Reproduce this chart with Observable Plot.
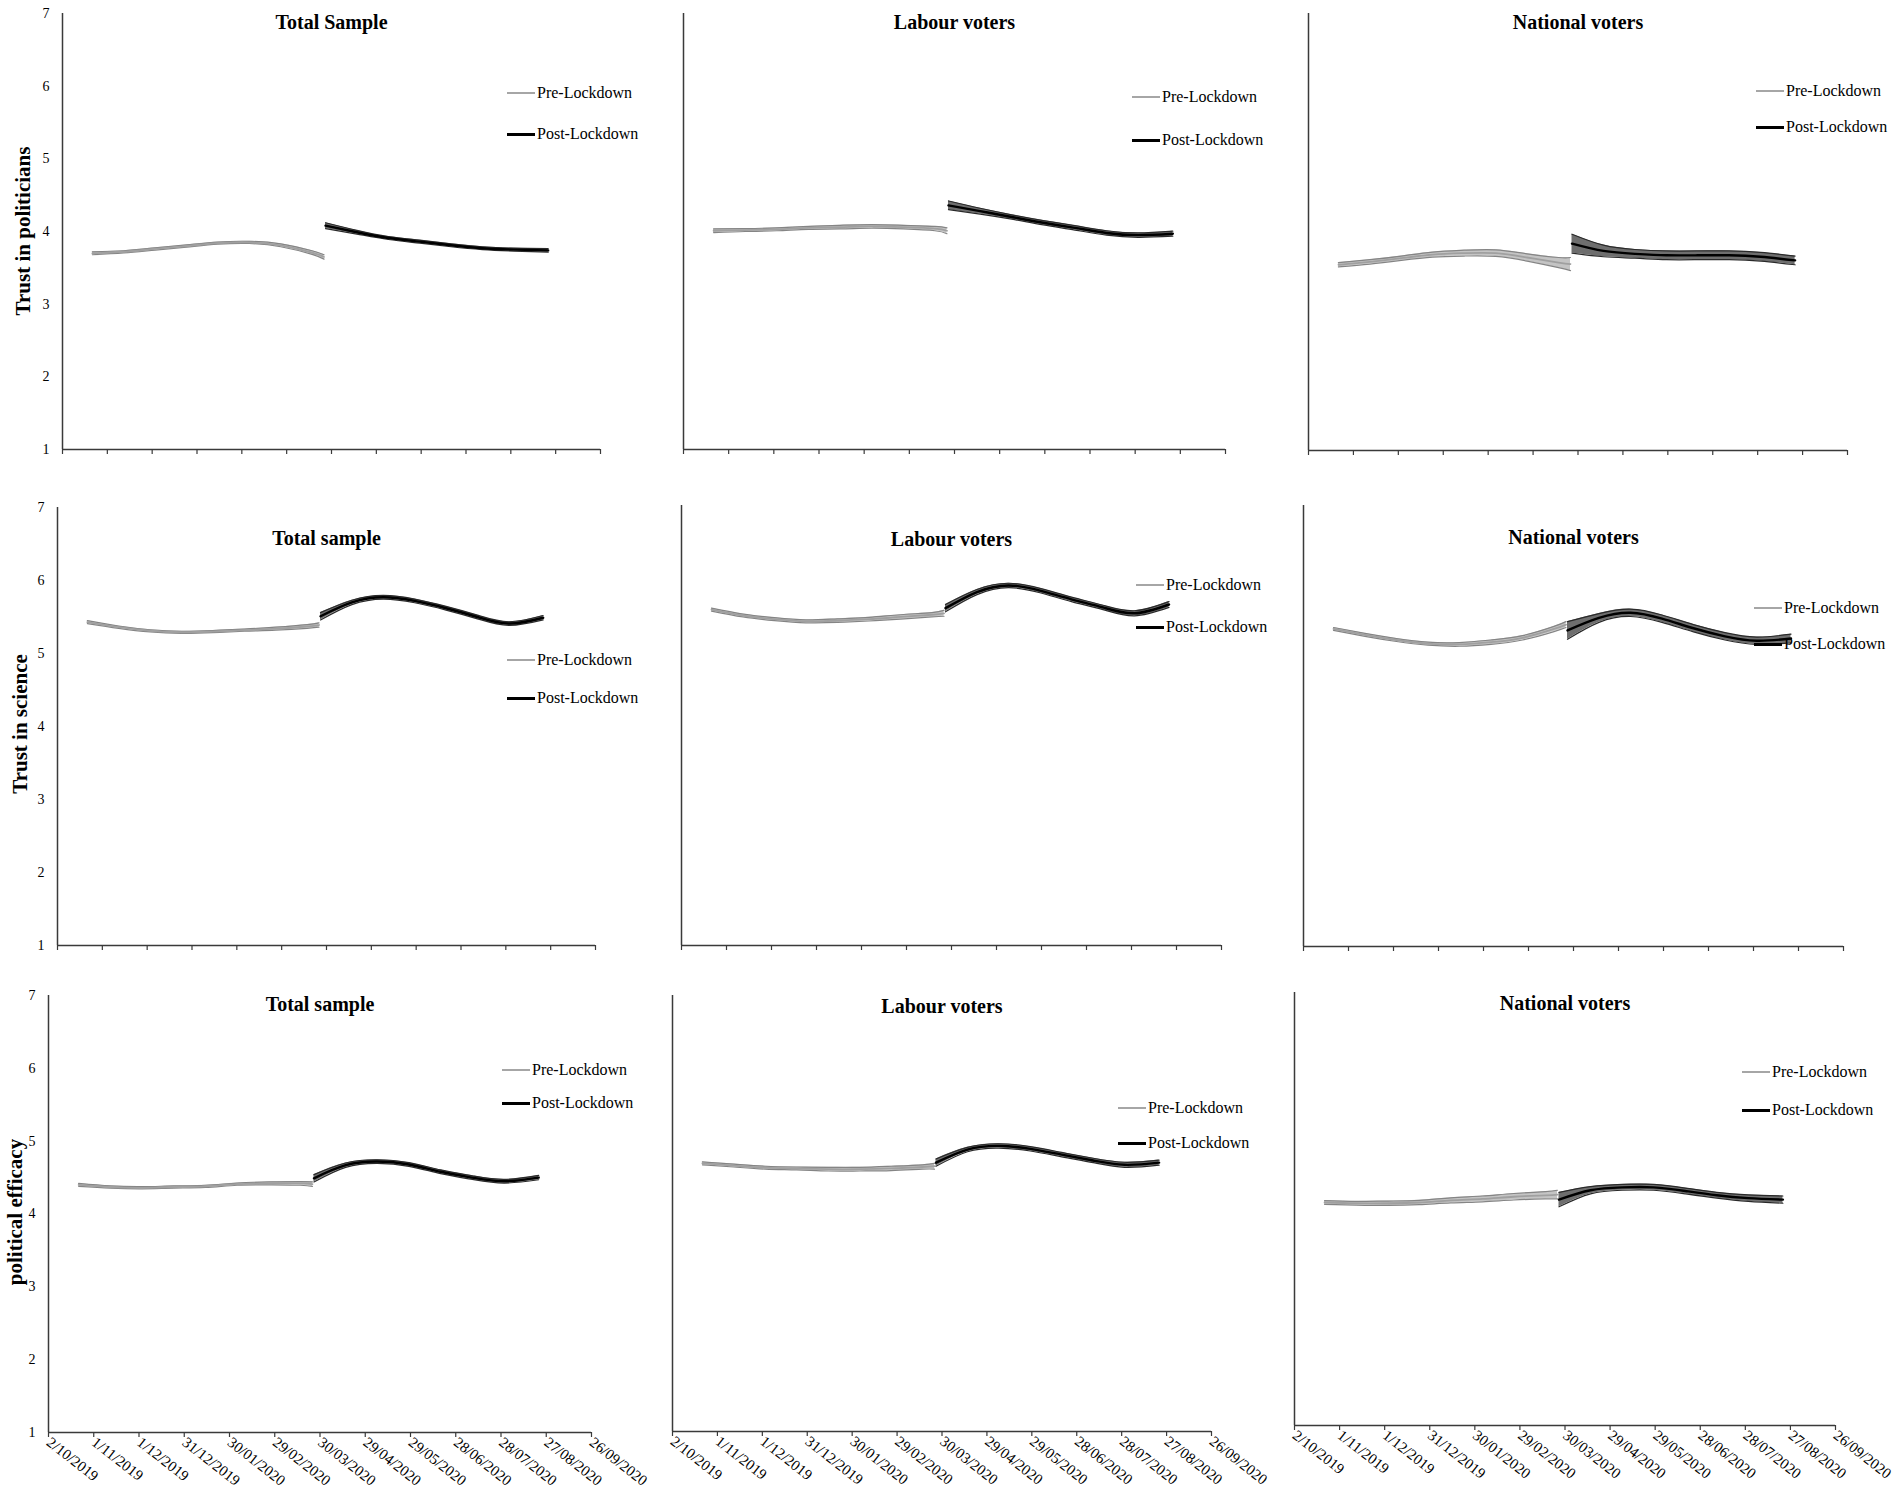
<!DOCTYPE html>
<html>
<head>
<meta charset="utf-8">
<script src="https://cdn.jsdelivr.net/npm/d3@7"></script>
<script src="https://cdn.jsdelivr.net/npm/@observablehq/plot@0.6"></script>
<style>
  html, body { margin: 0; padding: 0; background: #fff; }
  #chart { position: relative; width: 1902px; height: 1494px; overflow: hidden; background: #fff;
           font-family: "Liberation Serif", "Times New Roman", serif; color: #000; }
  .panel { position: absolute; }
  .panel svg { overflow: visible; }
  .ytitle { position: absolute; font-family: "Liberation Serif", "Times New Roman", serif; font-size: 21px;
            font-weight: 700; line-height: 21px; white-space: nowrap; color: #000;
            transform: translate(-50%, -50%) rotate(-90deg); }
  .legend { position: absolute; height: 20px; display: flex; align-items: center;
            font: 16px "Liberation Serif", serif; white-space: nowrap; color: #000; }
  .legend span { display: inline-block; width: 28px; margin-right: 2px; }
</style>
</head>
<body>
<div id="chart"></div>
<script>
// ---------- data ----------
const tickLabels = ["2/10/2019", "1/11/2019", "1/12/2019", "31/12/2019", "30/01/2020", "29/02/2020",
  "30/03/2020", "29/04/2020", "29/05/2020", "28/06/2020", "28/07/2020", "27/08/2020", "26/09/2020"];
const yTicks = [1, 2, 3, 4, 5, 6, 7];
const seriesLabels = ["Pre-Lockdown", "Post-Lockdown"];
const rowTitles = ["Trust in politicians", "Trust in science", "political efficacy"];
const panelTitles = ["Total Sample", "Labour voters", "National voters",
                     "Total sample", "Labour voters", "National voters",
                     "Total sample", "Labour voters", "National voters"];

const preDates  = ["2019-10-22", "2019-11-12", "2019-12-03", "2019-12-24", "2020-01-14",
                   "2020-02-04", "2020-02-25", "2020-03-17", "2020-03-25"];
const postDates = ["2020-03-26", "2020-04-16", "2020-05-07", "2020-05-28", "2020-06-18",
                   "2020-07-09", "2020-07-30", "2020-08-22"];

// Trust in politicians
const totalPolPre    = [3.70, 3.72, 3.76, 3.80, 3.84, 3.85, 3.81, 3.71, 3.65];
const totalPolPreCI  = [0.02, 0.015, 0.015, 0.015, 0.015, 0.015, 0.02, 0.025, 0.03];
const totalPolPost   = [4.08, 3.99, 3.91, 3.86, 3.81, 3.77, 3.75, 3.74];
const totalPolPostCI = [0.04, 0.025, 0.02, 0.02, 0.02, 0.02, 0.02, 0.025];
const labPolPre      = [4.01, 4.02, 4.03, 4.05, 4.06, 4.07, 4.06, 4.04, 4.01];
const labPolPreCI    = [0.025, 0.02, 0.02, 0.02, 0.025, 0.025, 0.025, 0.03, 0.04];
const labPolPost     = [4.36, 4.28, 4.20, 4.12, 4.05, 3.98, 3.95, 3.97];
const labPolPostCI   = [0.06, 0.04, 0.03, 0.03, 0.03, 0.03, 0.03, 0.035];
const natPolPre      = [3.55, 3.59, 3.64, 3.69, 3.71, 3.71, 3.65, 3.58, 3.56];
const natPolPreCI    = [0.03, 0.03, 0.03, 0.035, 0.04, 0.045, 0.05, 0.07, 0.09];
const natPolPost     = [3.84, 3.74, 3.70, 3.68, 3.68, 3.68, 3.66, 3.61];
const natPolPostCI   = [0.13, 0.08, 0.06, 0.06, 0.06, 0.06, 0.06, 0.06];

// Trust in science
const totalSciPre    = [5.43, 5.36, 5.31, 5.29, 5.30, 5.32, 5.34, 5.37, 5.39];
const totalSciPreCI  = [0.02, 0.015, 0.015, 0.015, 0.015, 0.015, 0.02, 0.025, 0.03];
const totalSciPost   = [5.51, 5.70, 5.77, 5.72, 5.62, 5.50, 5.41, 5.49];
const totalSciPostCI = [0.05, 0.03, 0.025, 0.025, 0.025, 0.025, 0.025, 0.03];
const labSciPre      = [5.58, 5.50, 5.45, 5.42, 5.43, 5.45, 5.48, 5.51, 5.53];
const labSciPreCI    = [0.02, 0.02, 0.02, 0.02, 0.025, 0.025, 0.03, 0.03, 0.04];
const labSciPost     = [5.60, 5.82, 5.91, 5.84, 5.72, 5.61, 5.53, 5.65];
const labSciPostCI   = [0.05, 0.035, 0.03, 0.03, 0.03, 0.03, 0.035, 0.04];
const natSciPre      = [5.32, 5.24, 5.17, 5.12, 5.11, 5.14, 5.20, 5.32, 5.38];
const natSciPreCI    = [0.02, 0.02, 0.02, 0.02, 0.025, 0.03, 0.03, 0.035, 0.04];
const natSciPost     = [5.30, 5.47, 5.54, 5.46, 5.33, 5.22, 5.16, 5.19];
const natSciPostCI   = [0.12, 0.06, 0.05, 0.05, 0.05, 0.05, 0.05, 0.06];

// Political efficacy
const totalEffPre    = [4.40, 4.37, 4.36, 4.37, 4.38, 4.41, 4.42, 4.42, 4.41];
const totalEffPreCI  = [0.02, 0.015, 0.015, 0.015, 0.015, 0.015, 0.02, 0.025, 0.03];
const totalEffPost   = [4.49, 4.67, 4.72, 4.68, 4.58, 4.50, 4.45, 4.50];
const totalEffPostCI = [0.05, 0.03, 0.025, 0.025, 0.025, 0.025, 0.025, 0.03];
const labEffPre      = [4.69, 4.66, 4.63, 4.62, 4.61, 4.61, 4.62, 4.64, 4.65];
const labEffPreCI    = [0.02, 0.02, 0.02, 0.02, 0.025, 0.025, 0.03, 0.03, 0.04];
const labEffPost     = [4.70, 4.88, 4.93, 4.89, 4.81, 4.73, 4.67, 4.70];
const labEffPostCI   = [0.05, 0.03, 0.03, 0.03, 0.03, 0.03, 0.035, 0.035];
const natEffPre      = [4.09, 4.08, 4.08, 4.09, 4.12, 4.14, 4.17, 4.19, 4.20];
const natEffPreCI    = [0.025, 0.025, 0.03, 0.03, 0.035, 0.04, 0.045, 0.05, 0.06];
const natEffPost     = [4.13, 4.26, 4.30, 4.30, 4.25, 4.19, 4.15, 4.13];
const natEffPostCI   = [0.10, 0.05, 0.04, 0.04, 0.04, 0.04, 0.045, 0.05];

// ---------- layout (page pixels) ----------
// [x0, x1, yTop(7), yBottom(1), titleDy, legendX, legendPreY, legendPostY]
const layout = [
  [62, 600, 13, 449, 9, 507, 93, 134],
  [683, 1225, 13, 449, 9, 1132, 97, 140],
  [1308, 1847, 13, 450, 9, 1756, 91, 127],
  [57, 595, 507, 945, 31, 507, 660, 698],
  [681, 1221, 505, 945, 34, 1136, 585, 627],
  [1303, 1843, 505, 946, 32, 1754, 608, 644],
  [48, 591, 995, 1432, 9, 502, 1070, 1103],
  [672, 1211, 995, 1431, 11, 1118, 1108, 1143],
  [1294, 1835, 992, 1425, 11, 1742, 1072, 1110]
];
// [cx, cy]
const yTitleLayout = [[23, 231], [20, 724], [15, 1212]];

const panelData = [
  [totalPolPre, totalPolPreCI, totalPolPost, totalPolPostCI],
  [labPolPre, labPolPreCI, labPolPost, labPolPostCI],
  [natPolPre, natPolPreCI, natPolPost, natPolPostCI],
  [totalSciPre, totalSciPreCI, totalSciPost, totalSciPostCI],
  [labSciPre, labSciPreCI, labSciPost, labSciPostCI],
  [natSciPre, natSciPreCI, natSciPost, natSciPostCI],
  [totalEffPre, totalEffPreCI, totalEffPost, totalEffPostCI],
  [labEffPre, labEffPreCI, labEffPost, labEffPostCI],
  [natEffPre, natEffPreCI, natEffPost, natEffPostCI]
];

// ---------- drawing ----------
const chart = document.getElementById("chart");
const parseISO = d3.utcParse("%Y-%m-%d");
const parseTick = d3.utcParse("%d/%m/%Y");
const tickDates = tickLabels.map(parseTick);
const labelOf = new Map(tickDates.map((d, i) => [+d, tickLabels[i]]));
const FONT = '"Liberation Serif", "Times New Roman", serif';
const AXIS = "#3a3a3a";

function rows(dates, vals, ci) {
  return dates.map((d, i) => ({date: parseISO(d), v: vals[i], lo: vals[i] - ci[i], hi: vals[i] + ci[i]}));
}

function seriesMarks(data, s) {
  return [
    Plot.areaY(data, {x: "date", y1: "lo", y2: "hi", fill: s.fill, curve: "natural"}),
    Plot.line(data, {x: "date", y: "lo", stroke: s.edge, strokeWidth: 1.2, curve: "natural"}),
    Plot.line(data, {x: "date", y: "hi", stroke: s.edge, strokeWidth: 1.2, curve: "natural"}),
    Plot.line(data, {x: "date", y: "v", stroke: s.line, strokeWidth: s.w, curve: "natural"})
  ];
}

const preStyle  = {fill: "#c4c4c4", edge: "#858585", line: "#a0a0a0", w: 1.8};
const postStyle = {fill: "#6e6e6e", edge: "#2a2a2a", line: "#000000", w: 2.4};

layout.forEach((L, i) => {
  const [x0, x1, yTop, yBot, titleDy, lx, lpy, lqy] = L;
  const row = Math.floor(i / 3), col = i % 3;
  const showY = col === 0;
  const showXLabels = row === 2;
  const mL = 60, mR = 12, mT = 22, mB = showXLabels ? 80 : 14;
  const [pre, preCI, post, postCI] = panelData[i];
  const preRows = rows(preDates, pre, preCI);
  const postRows = rows(postDates, post, postCI);

  const marks = [
    Plot.ruleX([tickDates[0]], {stroke: AXIS, strokeWidth: 1.5}),
    Plot.ruleY([1], {stroke: AXIS, strokeWidth: 1.5}),
    Plot.axisX({ticks: tickDates, tickSize: 5, stroke: AXIS, strokeWidth: 1.2,
      tickFormat: showXLabels ? (d => labelOf.get(+d)) : (() => ""),
      tickRotate: 38, tickPadding: 3, fontSize: 15, label: null}),
    ...seriesMarks(preRows, preStyle),
    ...seriesMarks(postRows, postStyle),
    Plot.text([panelTitles[i]], {text: d => d, frameAnchor: "top", lineAnchor: "middle", dy: titleDy,
      fontSize: 20, fontWeight: "bold", fill: "#000"})
  ];
  if (showY) marks.push(Plot.axisY({ticks: yTicks, tickFormat: "d", tickSize: 0, tickPadding: 13,
    fontSize: 14, label: null}));

  const svg = Plot.plot({
    width: x1 - x0 + mL + mR,
    height: yBot - yTop + mT + mB,
    marginLeft: mL, marginRight: mR, marginTop: mT, marginBottom: mB,
    x: {type: "utc", domain: [tickDates[0], tickDates[tickDates.length - 1]]},
    y: {domain: [1, 7], axis: showY ? undefined : null},
    style: {fontFamily: FONT, fontSize: "14px", color: "#000", background: "transparent"},
    marks
  });
  const wrap = document.createElement("div");
  wrap.className = "panel";
  wrap.style.left = (x0 - mL) + "px";
  wrap.style.top = (yTop - mT) + "px";
  wrap.appendChild(svg);
  chart.appendChild(wrap);

  // legend
  [[lpy, "#a6a6a6", 2.5, seriesLabels[0]], [lqy, "#000", 3, seriesLabels[1]]].forEach(([y, c, w, t]) => {
    const d = document.createElement("div");
    d.className = "legend";
    d.style.left = lx + "px";
    d.style.top = (y - 10) + "px";
    const sw = document.createElement("span");
    sw.style.height = w + "px";
    sw.style.background = c;
    d.appendChild(sw);
    d.appendChild(document.createTextNode(t));
    chart.appendChild(d);
  });
});

// y titles
yTitleLayout.forEach(([cx, cy], r) => {
  const t = document.createElement("div");
  t.className = "ytitle";
  t.textContent = rowTitles[r];
  t.style.left = cx + "px";
  t.style.top = cy + "px";
  chart.appendChild(t);
});
</script>
</body>
</html>
